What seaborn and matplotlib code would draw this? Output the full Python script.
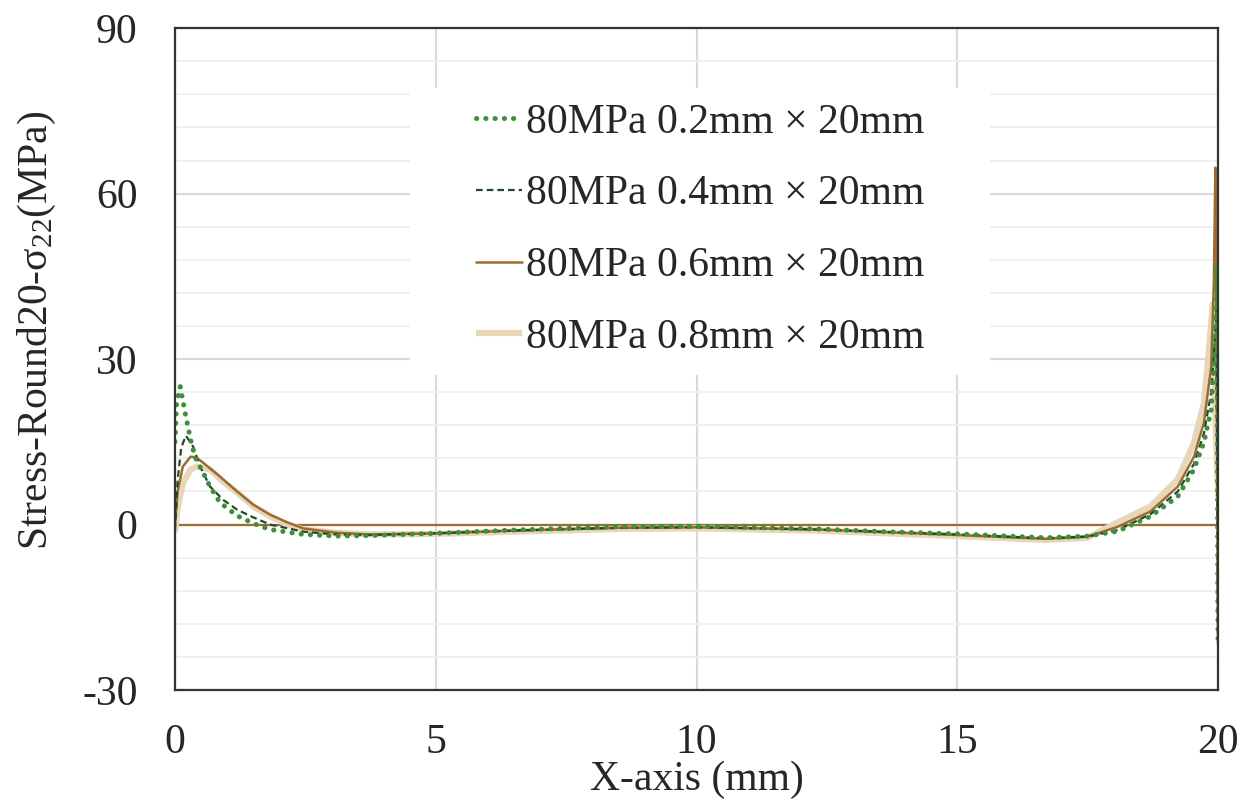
"""Stress along X-axis for four 80MPa crack widths."""

import numpy as np
import pandas as pd
import matplotlib
matplotlib.use("Agg")
import matplotlib.pyplot as plt
from matplotlib.patches import Rectangle
from matplotlib.ticker import MultipleLocator
import seaborn as sns

# series data
labels = [
    "80MPa 0.2mm × 20mm",
    "80MPa 0.4mm × 20mm",
    "80MPa 0.6mm × 20mm",
    "80MPa 0.8mm × 20mm",
]

x_02 = [0, 0.03, 0.1, 0.2, 0.29, 0.38, 0.54, 0.67, 0.86, 1.19, 1.5, 1.82, 2.46,
        3.1, 3.74, 5.0, 6.5, 8.5, 10, 12.3, 13.6, 15, 16.7, 17.5, 18.08, 18.71,
        19.23, 19.54, 19.73, 19.87, 19.92, 19.96, 19.98, 20.0]
y_02 = [15, 22, 25, 20, 15.8, 12.3, 9.4, 6.9, 4.0, 1.6, 0.2, -0.9, -1.8,
        -2.1, -2.0, -1.6, -1.0, -0.4, -0.3, -0.8, -1.3, -1.7, -2.4, -2.1, -1.2, 1.5,
        5.1, 10, 14.9, 20.8, 28.6, 37.7, 47, -22]

x_04 = [0, 0.05, 0.12, 0.21, 0.35, 0.48, 0.67, 0.92, 1.19, 1.5, 1.82, 2.46,
        3.1, 3.74, 5, 6.5, 8.5, 10, 12.3, 15, 16.7, 17.5, 18.08, 18.71, 19.23,
        19.54, 19.73, 19.87, 19.93, 19.97, 20.0]
y_04 = [-1, 8, 14, 16.1, 14.1, 10.5, 6.9, 4.5, 2.7, 1.3, 0, -1.3,
        -1.8, -1.9, -1.6, -1.1, -0.6, -0.5, -0.9, -1.8, -2.5, -2.2, -1.0, 1.9, 6.0,
        11.0, 16.5, 24, 32, 40, -22]

x_06 = [0, 0.05, 0.15, 0.3, 0.4, 0.54, 0.86, 1.19, 1.5, 1.82, 2.15, 2.46,
        3.1, 3.74, 5, 6.5, 8.5, 10, 12.3, 15, 16.7, 17.5, 18.08, 18.71, 19.23,
        19.54, 19.73, 19.87, 19.92, 19.95, 19.98, 20.0]
y_06 = [0, 6, 10.5, 12.3, 12.2, 11.2, 8.7, 6.0, 3.6, 1.8, 0.4, -0.7,
        -1.5, -1.8, -1.6, -1.1, -0.6, -0.5, -0.9, -1.9, -2.6, -2.2, -0.4, 2.4, 6.9,
        12.3, 18.5, 28.6, 43.8, 64.7, 20, -20]

x_08 = [0, 0.05, 0.15, 0.3, 0.42, 0.67, 0.92, 1.19, 1.5, 1.82, 2.15, 2.46,
        3.1, 3.74, 5, 6.5, 8.5, 10, 12.3, 15, 16.7, 17.5, 18.08, 18.71, 19.23,
        19.54, 19.73, 19.83, 19.9, 19.95, 20.0]
y_08 = [-1.5, 3, 7.5, 10, 10.5, 10.0, 7.8, 5.8, 3.3, 1.5, 0, -0.9,
        -1.5, -1.8, -1.7, -1.3, -0.8, -0.7, -1.1, -2.1, -2.8, -2.4, 0.4, 3.3, 8.2,
        14.9, 22, 32, 40, 20, 5]

xs = [x_02, x_04, x_06, x_08]
ys = [y_02, y_04, y_06, y_08]

colors = ["#3f8f3a", "#1f4a2a", "#9c6b30", "#e8d6b8"]
styles = [dict(lw=3.6, linestyle=(0, (0.05, 1.8)), dash_capstyle="round"),
          dict(lw=1.6, linestyle=(0, (3, 1.8))),
          dict(lw=1.8, linestyle="-"),
          dict(lw=4.5, linestyle="-", solid_capstyle="butt")]

sns.set_style("white")
plt.rcParams["font.family"] = ["Liberation Serif", "DejaVu Serif"]
plt.rcParams["mathtext.fontset"] = "custom"
plt.rcParams["mathtext.rm"] = "Liberation Serif"
plt.rcParams["mathtext.default"] = "rm"
plt.rcParams["axes.unicode_minus"] = False

fig, ax = plt.subplots(figsize=(12.5, 8.05), dpi=100)
fig.subplots_adjust(left=0.14, right=0.9744, top=0.965, bottom=0.1429)

# zero line drawn under the series
ax.axhline(0, color="#9c6b30", lw=1.6, zorder=1)

# draw light to dark so the dark ones sit on top, legend in original order
for i in [3, 2, 1, 0]:
    df = pd.DataFrame({"x": xs[i], "y": ys[i]})
    sns.lineplot(data=df, x="x", y="y", ax=ax, color=colors[i],
                 label=labels[i], zorder=3 + (3 - i), **styles[i])

ax.set_xlim(0, 20)
ax.set_ylim(-30, 90)
ax.xaxis.set_major_locator(MultipleLocator(5))
ax.yaxis.set_major_locator(MultipleLocator(30))
ax.yaxis.set_minor_locator(MultipleLocator(6))

ax.grid(which="major", axis="both", color="#d9d9d9", lw=1.5)
ax.grid(which="minor", axis="y", color="#efefef", lw=1.3)
ax.set_axisbelow(True)
ax.tick_params(axis="both", which="both", length=0, labelsize=30)
ax.tick_params(axis="x", pad=24)
ax.tick_params(axis="y", pad=27)

for sp in ax.spines.values():
    sp.set_color("#333333")
    sp.set_linewidth(1.6)
    sp.set_zorder(10)

ax.set_xlabel("X-axis (mm)", fontsize=30, labelpad=-1)
ax.set_ylabel("Stress-Round20-σ$_{22}$(MPa)", fontsize=30, labelpad=17, y=0.544)

# white legend backdrop hiding the grid, wider than the text block
ax.add_patch(Rectangle((0.225, 0.476), 0.556, 0.433, transform=ax.transAxes,
                       facecolor="white", edgecolor="none", zorder=2))

h, l = ax.get_legend_handles_labels()
pairs = sorted(zip(h, l), key=lambda p: labels.index(p[1]))
leg = ax.legend([p[0] for p in pairs], [p[1] for p in pairs],
                loc="center", bbox_to_anchor=(0.504, 0.695), fontsize=30,
                frameon=False, handlelength=1.1, handletextpad=0.1,
                labelspacing=0.8)
leg.set_zorder(8)

fig.savefig("out.png", dpi=100)
